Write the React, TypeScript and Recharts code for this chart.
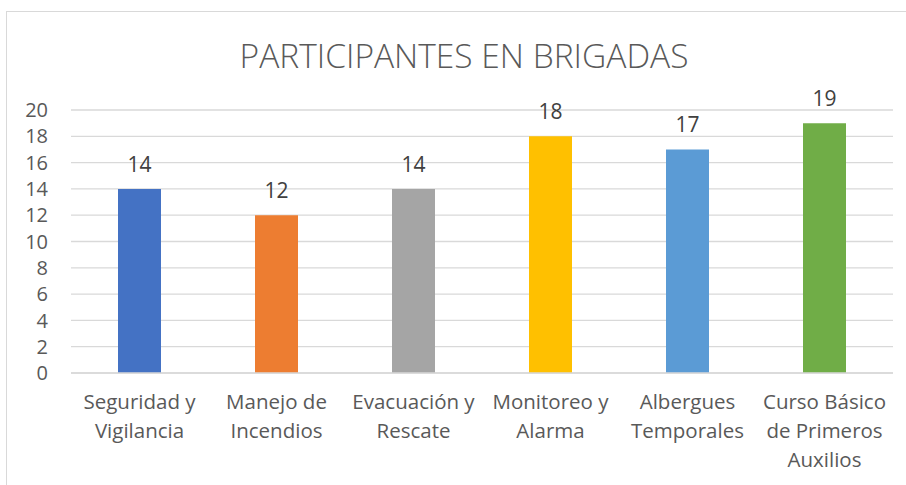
import React from "react";
import { BarChart, Bar, XAxis, YAxis, CartesianGrid, LabelList, Cell } from "recharts";

const categories = [
  "Seguridad y\nVigilancia",
  "Manejo de\nIncendios",
  "Evacuación y\nRescate",
  "Monitoreo y\nAlarma",
  "Albergues\nTemporales",
  "Curso Básico\nde Primeros\nAuxilios",
];
const participants = [14, 12, 14, 18, 17, 19];
const barColors = ["#4472C4", "#ED7D31", "#A5A5A5", "#FFC000", "#5B9BD5", "#70AD47"];
const yTicks = [0, 2, 4, 6, 8, 10, 12, 14, 16, 18, 20];
const title = "PARTICIPANTES EN BRIGADAS";

const data = categories.map((c, i) => ({ name: c, value: participants[i] }));

const FONT = "'Open Sans', sans-serif";

const XTick = (props: any) => {
  const { x, y, payload } = props;
  const lines = String(payload.value).split("\n");
  return (
    <text x={x} y={y} textAnchor="middle" fill="#595959" fontSize={20.5} fontFamily={FONT}>
      {lines.map((l: string, i: number) => (
        <tspan key={i} x={x} dy={i === 0 ? 28 : 29}>
          {l}
        </tspan>
      ))}
    </text>
  );
};

export default function App() {
  return (
    <div style={{ position: "absolute", left: 0, top: 0, width: 906, height: 485, overflow: "hidden", background: "#fff" }}>
      <div
        style={{
          position: "absolute",
          left: 6,
          top: 11,
          width: 960,
          height: 600,
          border: "1.5px solid #d9d9d9",
          boxSizing: "border-box",
        }}
      />
      <div
        style={{
          position: "absolute",
          left: 0,
          top: 32,
          width: 928,
          textAlign: "center",
          fontFamily: FONT,
          fontSize: 33.5,
          fontWeight: 300,
          color: "#595959",
          lineHeight: "46px",
          whiteSpace: "nowrap",
        }}
      >
        {title}
      </div>
      <div style={{ position: "absolute", left: 0, top: 0 }}>
        <BarChart width={906} height={485} data={data} margin={{ top: 110, right: 13, bottom: 0, left: 0 }}>
          <CartesianGrid horizontal vertical={false} stroke="#d9d9d9" strokeWidth={1.3} />
          <XAxis
            dataKey="name"
            axisLine={{ stroke: "#d9d9d9", strokeWidth: 1.5 }}
            tickLine={false}
            interval={0}
            height={112}
            tick={<XTick />}
          />
          <YAxis
            width={71}
            domain={[0, 20]}
            ticks={yTicks}
            interval={0}
            axisLine={false}
            tickLine={false}
            tickSize={0}
            tickMargin={23}
            tick={{ fill: "#595959", fontSize: 20, fontFamily: FONT }}
          />
          <Bar dataKey="value" barSize={43} isAnimationActive={false}>
            {data.map((d, i) => (
              <Cell key={i} fill={barColors[i]} />
            ))}
            <LabelList dataKey="value" position="top" offset={17} fill="#404040" fontSize={21} fontFamily={FONT} />
          </Bar>
        </BarChart>
      </div>
    </div>
  );
}
